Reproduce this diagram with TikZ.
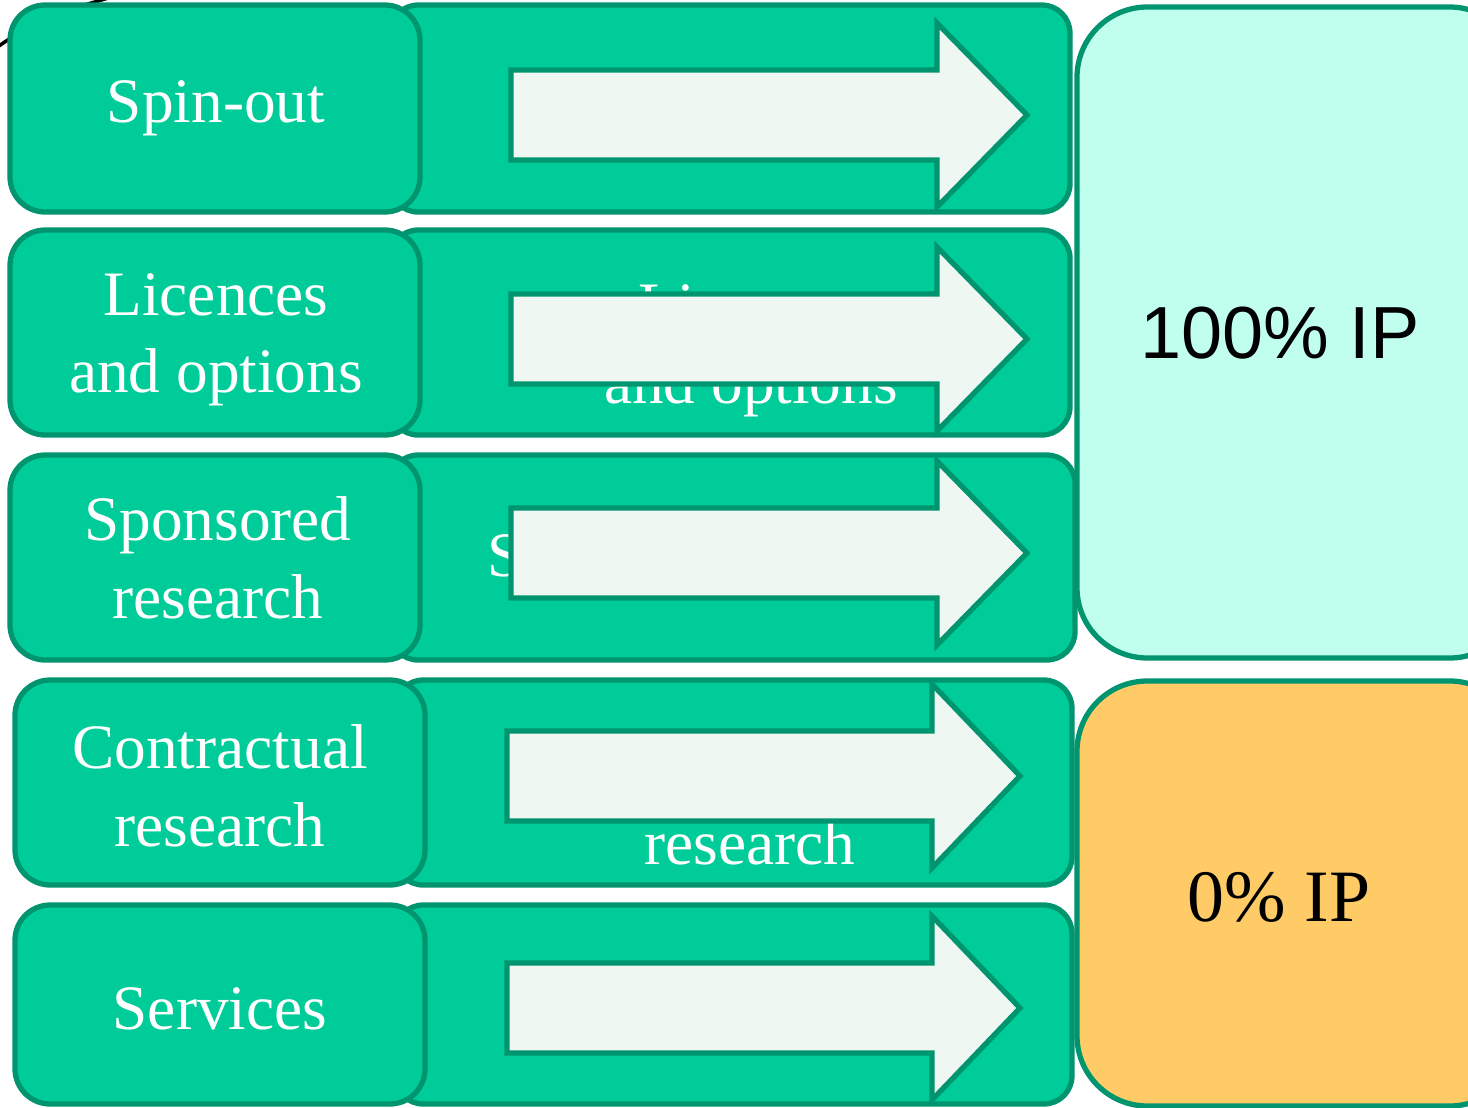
\documentclass[tikz,border=0pt]{standalone}
\usepackage{fontspec}
\setmainfont{Liberation Serif}
\newfontfamily\arialfont{Liberation Sans}
\definecolor{boxgreen}{HTML}{00CC99}
\definecolor{edgegreen}{HTML}{00946F}
\definecolor{arrowfill}{HTML}{EEF7F1}
\definecolor{ipmint}{HTML}{C0FFEE}
\definecolor{iporange}{HTML}{FECB67}
% block arrow: shaft left, head base, tip, centre y
\newcommand{\blockarrow}[4]{%
  \draw[arrowshape] (#1,#4-45) -- (#2,#4-45) -- (#2,#4-92) -- (#3,#4) -- (#2,#4+92) -- (#2,#4+45) -- (#1,#4+45) -- cycle;}
\tikzset{
  leftbox/.style={draw=edgegreen, fill=boxgreen, line width=1.5pt, rounded corners=10pt},
  backbox/.style={draw=edgegreen, fill=boxgreen, line width=1.5pt, rounded corners=8pt},
  arrowshape/.style={draw=edgegreen, fill=arrowfill, line width=1.5pt, line join=miter},
  ipbox/.style={draw=edgegreen, line width=1.5pt, rounded corners=20pt},
  rowtext/.style={text=white, align=center, font=\fontsize{18}{22}\selectfont, inner sep=0pt},
}

\begin{document}
\begin{tikzpicture}[x=0.01cm,y=-0.01cm]
    \fill[white] (0,0) rectangle (1468,1108);
    \clip (0,0) rectangle (1468,1108);

%    stray stroke behind the first row
    \draw[line width=1pt] (-10,52) .. controls (40,18) .. (115,-4);

%    row 1
    \draw[backbox] (390,5) rectangle (1070,212);
    \node[rowtext] (spinoutback) at (750,115) {Spin-out};
    \blockarrow{511}{937}{1027}{115}
    \draw[leftbox] (10,5) rectangle (420,212);
    \node[rowtext] (spinout) at (216,108) {Spin-out};

%    row 2
    \draw[backbox] (390,230) rectangle (1070,435);
    \node[rowtext] (licencesback) at (751,351) {Licences\\and options};
    \blockarrow{511}{937}{1027}{339}
    \draw[leftbox] (10,230) rectangle (420,435);
    \node[rowtext] (licences) at (216,340) {Licences\\and options};

%    row 3
    \draw[backbox] (390,455) rectangle (1075,660);
    \node[rowtext] (sponsoredback) at (734,561) {Sponsored research};
    \blockarrow{511}{937}{1027}{553}
    \draw[leftbox] (10,455) rectangle (420,660);
    \node[rowtext] (sponsored) at (218,558) {Sponsored\\research};

%    row 4
    \draw[backbox] (395,680) rectangle (1072,885);
    \node[rowtext] (contractback) at (750,804) {Contractual\\research};
    \blockarrow{507}{932}{1020}{776}
    \draw[leftbox] (15,680) rectangle (425,885);
    \node[rowtext] (contract) at (220,786) {Contractual\\research};

%    row 5
    \draw[backbox] (395,905) rectangle (1072,1104);
    \node[rowtext] (servicesback) at (750,1008) {Services};
    \blockarrow{507}{932}{1020}{1008}
    \draw[leftbox] (15,905) rectangle (425,1104);
    \node[rowtext] (services) at (220,1009) {Services};

%    ownership boxes
    \draw[ipbox, fill=ipmint] (1077,7) rectangle (1520,658);
    \node[font=\arialfont\fontsize{21}{24}\selectfont] (ipfull) at (1280,333) {100\% IP};
    \draw[ipbox, fill=iporange] (1077,681) rectangle (1520,1106);
    \node[font=\fontsize{21}{24}\selectfont] (ipnone) at (1279,897) {0\% IP};

\end{tikzpicture}
\end{document}
